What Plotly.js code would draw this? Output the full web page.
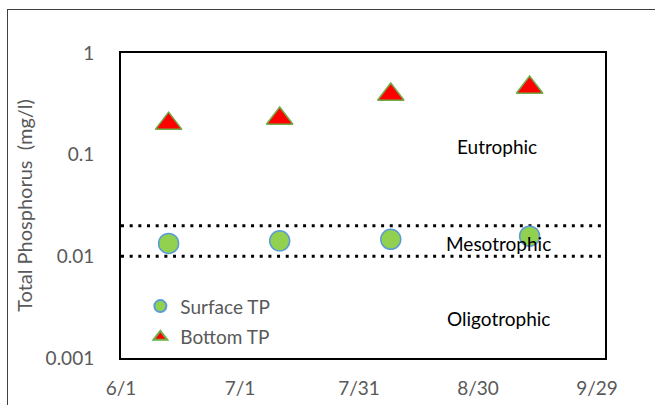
<!DOCTYPE html>
<html>
<head>
<meta charset="utf-8">
<script src="https://cdn.plot.ly/plotly-3.0.1.min.js"></script>
<style>
  html, body { margin: 0; padding: 0; width: 655px; height: 405px; overflow: hidden; background: #fff; }
  #chart { position: absolute; left: 0; top: 0; width: 655px; height: 405px; }
  #frame { position: absolute; left: 7px; top: 9px; width: 700px; height: 450px; border: 1.5px solid #3f3f3f; pointer-events: none; }
</style>
</head>
<body>
<div id="chart"></div>
<div id="frame"></div>
<script>
// Sampling dates
const sampleDates = ['2017-06-13', '2017-07-11', '2017-08-08', '2017-09-12'];
// Total phosphorus (mg/l)
const surfaceTP = [0.0134, 0.0142, 0.0147, 0.0158];
const bottomTP = [0.202, 0.227, 0.391, 0.457];
// Trophic boundaries (mg/l)
const mesoLower = 0.01;
const mesoUpper = 0.02;
// Axis extents and ticks
const xRange = ['2017-06-01', '2017-10-01'];
const xTickVals = ['2017-06-01', '2017-07-01', '2017-07-31', '2017-08-30', '2017-09-29'];
const xTickText = ['6/1', '7/1', '7/31', '8/30', '9/29'];
const yTickVals = [0.001, 0.01, 0.1, 1];
const yTickText = ['0.001', '0.01', '0.1', '1'];
const zoneLabels = ['Eutrophic', 'Mesotrophic', 'Oligotrophic'];

const FONT = 'Lato, "Open Sans", sans-serif';
const dotDash = '3px,5.67px';

const traces = [
  {
    x: xRange, y: [mesoUpper, mesoUpper], mode: 'lines', showlegend: false, hoverinfo: 'skip',
    line: { color: '#000000', width: 3, dash: dotDash }
  },
  {
    x: xRange, y: [mesoLower, mesoLower], mode: 'lines', showlegend: false, hoverinfo: 'skip',
    line: { color: '#000000', width: 3, dash: dotDash }
  },
  {
    x: sampleDates, y: surfaceTP, mode: 'markers', name: 'Surface TP', legendgroup: 'a',
    marker: { symbol: 'circle', size: 20, color: '#92D050', line: { color: '#5B9BD5', width: 1.5 } }
  },
  {
    x: sampleDates, y: bottomTP, mode: 'markers', name: 'Bottom TP', legendgroup: 'b',
    marker: { symbol: 'triangle-up', size: 23, color: '#FF0000', line: { color: '#70AD47', width: 1.5 } }
  }
];

const layout = {
  width: 655, height: 405,
  margin: { l: 121, r: 50, t: 53, b: 47, pad: 0 },
  paper_bgcolor: '#ffffff', plot_bgcolor: '#ffffff',
  font: { family: FONT, size: 19, color: '#595959' },
  showlegend: true,
  legend: {
    x: 0.04, y: 0.232, xanchor: 'left', yanchor: 'top',
    bgcolor: 'rgba(0,0,0,0)', borderwidth: 0,
    font: { family: FONT, size: 19, color: '#595959' },
    traceorder: 'grouped', tracegroupgap: 3, itemsizing: 'constant'
  },
  xaxis: {
    type: 'date', range: xRange, tickvals: xTickVals, ticktext: xTickText,
    showgrid: false, zeroline: false, showline: true, mirror: true,
    linecolor: '#000000', linewidth: 2, ticks: '', ticklabelstandoff: 12,
    tickfont: { family: FONT, size: 19, color: '#595959' }, fixedrange: true
  },
  yaxis: {
    type: 'log', range: [-3, 0], tickvals: yTickVals, ticktext: yTickText,
    showgrid: false, zeroline: false, showline: true, mirror: true,
    linecolor: '#000000', linewidth: 2, ticks: '', ticklabelstandoff: 21,
    tickfont: { family: FONT, size: 19, color: '#595959' },
    title: { text: 'Total Phosphorus  (mg/l)', font: { family: FONT, size: 20, color: '#595959' }, standoff: 8 },
    automargin: false, fixedrange: true
  },
  annotations: [
    { text: zoneLabels[0], xref: 'paper', yref: 'paper', x: 0.777, y: 0.692, showarrow: false, xanchor: 'center', yanchor: 'middle', font: { family: FONT, size: 19, color: '#000000' } },
    { text: zoneLabels[1], xref: 'paper', yref: 'paper', x: 0.780, y: 0.377, showarrow: false, xanchor: 'center', yanchor: 'middle', font: { family: FONT, size: 19, color: '#000000' } },
    { text: zoneLabels[2], xref: 'paper', yref: 'paper', x: 0.779, y: 0.131, showarrow: false, xanchor: 'center', yanchor: 'middle', font: { family: FONT, size: 19, color: '#000000' } }
  ],
  hovermode: false
};

Plotly.newPlot('chart', traces, layout, { displayModeBar: false, staticPlot: true });
</script>
</body>
</html>
